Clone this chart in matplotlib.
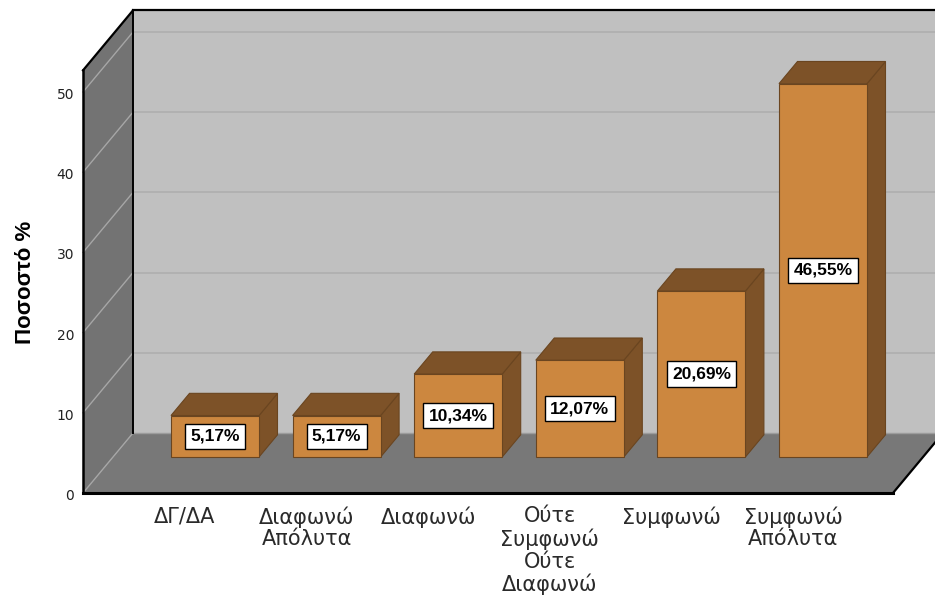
import matplotlib
matplotlib.use("Agg")
import matplotlib.pyplot as plt
from matplotlib.patches import Polygon

# Data
categories = ["ΔΓ/ΔΑ", "Διαφωνώ\nΑπόλυτα", "Διαφωνώ",
              "Ούτε\nΣυμφωνώ\nΟύτε\nΔιαφωνώ", "Συμφωνώ", "Συμφωνώ\nΑπόλυτα"]
percentages = [5.17, 5.17, 10.34, 12.07, 20.69, 46.55]
y_ticks = [0, 10, 20, 30, 40, 50]
y_label = "Ποσοστό %"

# Figure / scale setup (one category step and one percent expressed in pixels)
W, H = 935, 599
PX_CAT = 121.6
PX_PCT = 8.02
X0_PX = 185          # position of the first category on the front plane
Y0_PX = 106          # position of 0 % on the front plane, from the bottom

fig = plt.figure(figsize=(W / 100, H / 100), dpi=100)
ax = fig.add_axes([0, 0, 1, 1])
ax.set_xlim(-X0_PX / PX_CAT, (W - X0_PX) / PX_CAT)
ax.set_ylim(-Y0_PX / PX_PCT, (H - Y0_PX) / PX_PCT)
ax.axis("off")

# Oblique depth offset of the whole chart box
DX = 50 / PX_CAT
DY = 60 / PX_PCT


def proj(x, v, d):
    """Project (category, value, depth 0..1) onto the page."""
    return (x + d * DX, v + d * DY)


x_left = -102 / PX_CAT
x_right = 708 / PX_CAT
top = 52.7

BACK = "#c0c0c0"
SIDE = "#737373"
FLOOR = "#787878"


def poly(pts, fc, ec="none", lw=0.0, z=1):
    ax.add_patch(Polygon(pts, closed=True, facecolor=fc, edgecolor=ec,
                         linewidth=lw, zorder=z, joinstyle="miter"))


# Back wall, left wall, floor
poly([proj(x_left, 0, 1), proj(x_right, 0, 1), proj(x_right, top, 1),
      proj(x_left, top, 1)], BACK, z=1)
poly([proj(x_left, 0, 0), proj(x_left, 0, 1), proj(x_left, top, 1),
      proj(x_left, top, 0)], SIDE, z=1)
poly([proj(x_left, 0, 0), proj(x_right, 0, 0), proj(x_right, 0, 1),
      proj(x_left, 0, 1)], FLOOR, z=1)

# Grid lines on back and left walls
for t in y_ticks[1:]:
    xs, ys = zip(proj(x_left, t, 1), proj(x_right, t, 1))
    ax.plot(xs, ys, color="#b0b0b0", lw=1.3, zorder=2)
for t in y_ticks:
    xs, ys = zip(proj(x_left, t, 0), proj(x_left, t, 1))
    ax.plot(xs, ys, color="#a6a6a6", lw=1.0, zorder=2)

# Floor/back wall junction
xs, ys = zip(proj(x_left, 0, 1), proj(x_right, 0, 1))
ax.plot(xs, ys, color="#9c9c9c", lw=1.0, zorder=2)

# Box outline
edge_kw = dict(color="black", zorder=3, solid_capstyle="projecting")
for a, b, lw in [
    (proj(x_left, 0, 0), proj(x_right, 0, 0), 2.2),
    (proj(x_right, 0, 0), proj(x_right, 0, 1), 1.6),
    (proj(x_left, 0, 0), proj(x_left, top, 0), 1.8),
    (proj(x_left, top, 0), proj(x_left, top, 1), 1.6),
    (proj(x_left, top, 1), proj(x_right, top, 1), 1.6),
    (proj(x_left, 0, 1), proj(x_left, top, 1), 1.4),
]:
    ax.plot([a[0], b[0]], [a[1], b[1]], lw=lw, **edge_kw)

# Bars
FRONT = "#cc873f"
DARK = "#7d5228"
EDGE = "#6a4520"
half = 88 / PX_CAT / 2
d0, d1 = 0.6, 0.97
for i, v in enumerate(percentages):
    poly([proj(i + half, 0, d0), proj(i + half, 0, d1), proj(i + half, v, d1),
          proj(i + half, v, d0)], DARK, EDGE, 0.8, z=4)
    poly([proj(i - half, v, d0), proj(i + half, v, d0), proj(i + half, v, d1),
          proj(i - half, v, d1)], DARK, EDGE, 0.8, z=4)
    poly([proj(i - half, 0, d0), proj(i + half, 0, d0), proj(i + half, v, d0),
          proj(i - half, v, d0)], FRONT, EDGE, 0.8, z=5)
    lx, ly = proj(i, v / 2, d0)
    ax.text(lx, ly, f"{v:.2f}%".replace(".", ","), ha="center", va="center",
            fontsize=12.5, fontweight="bold", family="Liberation Sans",
            color="black", zorder=6,
            bbox=dict(boxstyle="square,pad=0.3", fc="white", ec="black", lw=1.0))

# Value axis tick labels on the front plane
for t in y_ticks:
    tx, ty = proj(x_left, t, 0)
    ax.text(tx - 9 / PX_CAT, ty - 3 / PX_PCT, str(t), ha="right", va="center",
            fontsize=10, family="DejaVu Sans", color="#222222")

# Category labels
for i, c in enumerate(categories):
    ax.text(i, -13 / PX_PCT, c, ha="center", va="top", fontsize=15,
            family="DejaVu Sans", color="#2a2a2a", linespacing=1.12)

# Axis title
ax.text(-160 / PX_CAT, (493 - 282) / PX_PCT, y_label, rotation=90,
        ha="center", va="center", fontsize=16, fontweight="bold",
        family="Liberation Sans", color="black")

fig.savefig("out.png", dpi=100)
